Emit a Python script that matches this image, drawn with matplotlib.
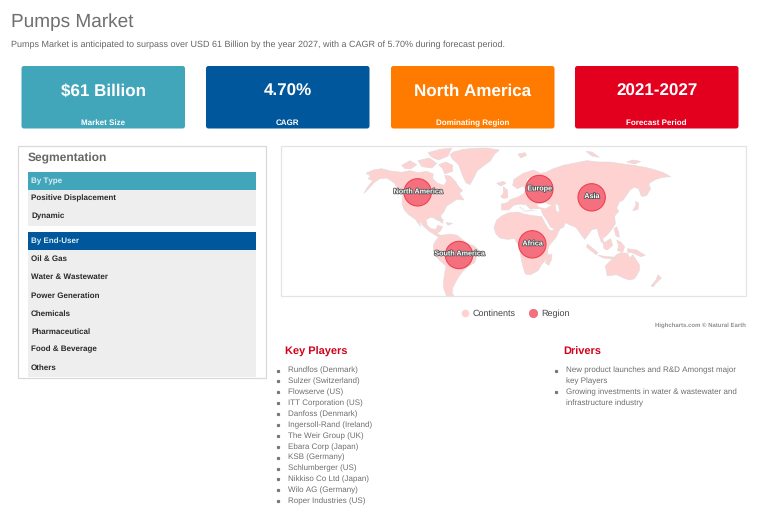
import matplotlib
matplotlib.use('Agg')
import matplotlib.pyplot as plt
import matplotlib.patheffects as pe
from matplotlib.patches import Circle, FancyBboxPatch, Polygon, Rectangle

plt.rcParams['font.family'] = ['Liberation Sans', 'DejaVu Sans']
plt.rcParams['text.hinting'] = 'none'
plt.rcParams['text.hinting_factor'] = 1

card_values = ['$61 Billion', '4.70%', 'North America', '2021-2027']
card_labels = ['Market Size', 'CAGR', 'Dominating Region', 'Forecast Period']
card_colors = ['#42a6bb', '#01579b', '#ff7b00', '#e3001f']

type_items = ['Positive Displacement', 'Dynamic']
end_user_items = ['Oil & Gas', 'Water & Wastewater', 'Power Generation', 'Chemicals',
                  'Pharmaceutical', 'Food & Beverage', 'Others']

key_players = ['Rundfos (Denmark)', 'Sulzer (Switzerland)', 'Flowserve (US)', 'ITT Corporation (US)',
               'Danfoss (Denmark)', 'Ingersoll-Rand (Ireland)', 'The Weir Group (UK)', 'Ebara Corp (Japan)',
               'KSB (Germany)', 'Schlumberger (US)', 'Nikkiso Co Ltd (Japan)', 'Wilo AG (Germany)',
               'Roper Industries (US)']
drivers = [['New product launches and R&D Amongst major', 'key Players'],
           ['Growing investments in water & wastewater and', 'infrastructure industry']]

# map outlines, traced in map units
continents = [
  # north america
  [(288, 100), (310, 90), (335, 86), (362, 93), (395, 97), (420, 92), (445, 98), (470, 94), (490, 102), (488, 116),
   (503, 130), (522, 136), (530, 124), (524, 106), (540, 108), (556, 124), (566, 140), (578, 152), (568, 160),
   (582, 180), (560, 178), (546, 188), (530, 198), (522, 214), (512, 228), (520, 250), (512, 246), (500, 232),
   (480, 232), (468, 240), (472, 256), (482, 266), (498, 268), (503, 256), (518, 260), (510, 274), (500, 280),
   (520, 290), (540, 298), (558, 308), (540, 308), (520, 300), (500, 288), (478, 274), (458, 256), (446, 240),
   (452, 260), (436, 238), (416, 224), (402, 208), (396, 190), (398, 168), (384, 146), (372, 128), (350, 114),
   (330, 116), (312, 128), (296, 146), (282, 160), (292, 142), (308, 122), (294, 116), (302, 108)],
  # greenland
  [(550, 36), (580, 28), (610, 25), (650, 24), (688, 30), (672, 44), (662, 62), (640, 78), (622, 92), (612, 112),
   (600, 134), (588, 128), (580, 112), (572, 92), (566, 74), (548, 58), (540, 44)],
  # south america
  [(490, 314), (500, 298), (515, 286), (540, 282), (562, 286), (576, 298), (592, 310), (612, 318), (628, 332),
   (620, 350), (614, 368), (596, 378), (578, 394), (566, 410), (556, 428), (548, 444), (546, 460), (552, 466),
   (530, 468), (522, 448), (520, 428), (524, 400), (528, 378), (510, 362), (496, 346), (490, 330)],
  # africa
  [(672, 262), (680, 240), (698, 226), (718, 218), (745, 216), (762, 222), (782, 226), (815, 230), (826, 252),
   (840, 272), (870, 266), (858, 292), (838, 316), (832, 332), (836, 350), (816, 372), (804, 392), (782, 404),
   (766, 402), (758, 376), (752, 348), (752, 324), (738, 304), (734, 296), (712, 298), (690, 294), (678, 282)],
  # eurasia
  [(694, 210), (694, 192), (712, 188), (722, 178), (742, 172), (762, 160), (768, 146), (760, 138), (742, 146),
   (728, 136), (732, 118), (760, 100), (790, 90), (812, 100), (830, 96), (850, 86), (880, 76), (920, 68),
   (950, 62), (985, 66), (1020, 66), (1060, 72), (1090, 76), (1125, 82), (1150, 88), (1180, 98), (1202, 110),
   (1178, 112), (1158, 118), (1140, 128), (1130, 146), (1114, 168), (1106, 146), (1092, 142), (1080, 150),
   (1068, 168), (1060, 180), (1048, 186), (1040, 204), (1046, 214), (1034, 228), (1036, 252), (1024, 270),
   (1010, 286), (998, 296), (1002, 312), (994, 306), (986, 284), (982, 266), (966, 268), (956, 282), (944, 298),
   (932, 282), (918, 262), (902, 256), (886, 248), (880, 262), (860, 270), (842, 262), (830, 240), (818, 222),
   (812, 206), (790, 206), (782, 208), (768, 194), (750, 192), (730, 196), (716, 210)],
  # australia
  [(1006, 378), (1022, 362), (1040, 344), (1054, 338), (1072, 340), (1080, 354), (1088, 344), (1108, 374),
   (1108, 392), (1094, 416), (1078, 420), (1060, 414), (1040, 404), (1012, 408)],
  # islands
  [(826, 368), (838, 344), (846, 342), (844, 360), (836, 376)],
  [(1143, 438), (1158, 420), (1164, 404), (1174, 414), (1158, 430), (1150, 440)],
  [(1088, 212), (1098, 196), (1096, 184), (1106, 190), (1104, 208)],
  [(1116, 170), (1128, 150), (1138, 136), (1142, 146), (1130, 166)],
  [(692, 170), (700, 160), (700, 140), (712, 150), (714, 172), (702, 176)],
  [(680, 130), (700, 124), (708, 130), (692, 138)],
  [(952, 312), (984, 338), (978, 344), (950, 322)],
  [(984, 346), (1012, 350), (1042, 352), (1040, 358), (1000, 354)],
  [(1000, 310), (1022, 296), (1028, 316), (1012, 330), (1002, 326)],
  [(1040, 300), (1052, 306), (1064, 320), (1058, 336), (1042, 332), (1046, 318)],
  [(1072, 326), (1100, 330), (1126, 346), (1112, 350), (1086, 338), (1074, 338)],
  [(1032, 266), (1040, 260), (1046, 276), (1048, 292), (1038, 288)],
  [(744, 42), (765, 38), (770, 46), (752, 54)],
  [(948, 34), (966, 36), (988, 52), (966, 48)],
  [(1070, 66), (1088, 60), (1112, 64), (1094, 72)],
  [(395, 76), (420, 62), (440, 74), (424, 86), (405, 86)],
  [(444, 62), (478, 54), (500, 70), (486, 84), (456, 80)],
  [(474, 38), (510, 28), (545, 24), (534, 48), (506, 60), (486, 52)],
  [(506, 74), (528, 66), (548, 76), (548, 94), (524, 102), (518, 86)],
  [(488, 232), (504, 234), (522, 240), (504, 242)],
  [(528, 248), (548, 250), (534, 256)],
]
inland_seas = [
  [(800, 192), (826, 188), (846, 196), (826, 206), (806, 202)],
  [(856, 190), (866, 196), (868, 218), (858, 212)],
  [(772, 112), (782, 118), (776, 140), (768, 136)],
  [(748, 200), (770, 212), (800, 212), (760, 214)],
]
region_names = ['North America', 'Europe', 'Asia', 'Africa', 'South America']
region_x = [443, 808, 965, 787, 567]
region_y = [157, 147, 172, 313, 345]
region_label_y = [155, 146, 169, 311, 341]

TEXT_GREY = '#6e6e6e'
RED = '#d0021b'


def px(size):
  return size * 0.72


def draw_cards(ax):
  lefts = [21.5, 206, 391, 575]
  for left, value, label, color in zip(lefts, card_values, card_labels, card_colors):
    ax.add_patch(FancyBboxPatch((left, 66), 163.5, 62.5, boxstyle='round,pad=0,rounding_size=2.5',
                                fc=color, ec='none'))
    ax.text(left + 81.7, 91, value, color='white', fontsize=px(16.6), fontweight='bold', ha='center', va='center')
    ax.text(left + 81.7, 123, label, color='white', fontsize=px(8.4), fontweight='bold', ha='center', va='center')


def draw_segment(ax, title, color, items, top, ys):
  ax.add_patch(Rectangle((28, top), 228, 18, fc=color, ec='none'))
  ax.add_patch(Rectangle((28, top + 18), 228, ys[-1] - top - 18 + 9.5, fc='#eeeeee', ec='none'))
  ax.text(31, top + 8.8, title, color='#dfeef5', fontsize=px(8.2), fontweight='bold', va='center')
  for item, y in zip(items, ys):
    ax.text(31, y + 0.5, item, color='#2a2a2a', fontsize=px(8.2), fontweight='bold', va='center')


def draw_segmentation(ax):
  ax.text(28, 158.5, 'Segmentation', color='#666666', fontsize=px(11.8), fontweight='bold', va='center')
  draw_segment(ax, 'By Type', card_colors[0], type_items, 172, [198, 216])
  draw_segment(ax, 'By End-User', card_colors[1], end_user_items, 232, [258, 276.5, 295, 313, 331, 349, 367])
  ax.add_patch(Rectangle((17.5, 146), 248.5, 231.5, fc='none', ec='#d9d9d9', lw=0.9))


def draw_lists(ax):
  ax.text(285, 352, 'Key Players', color=RED, fontsize=px(11.3), fontweight='bold', va='center')
  ax.text(563.5, 352, 'Drivers', color=RED, fontsize=px(11.3), fontweight='bold', va='center')
  y = 370.5
  for name in key_players:
    ax.plot([278], [y], 's', ms=1.3, color='#777777')
    ax.text(287.5, y, name, color=TEXT_GREY, fontsize=px(8.3), va='center')
    y += 10.9
  y = 370.5
  for lines in drivers:
    ax.plot([556], [y], 's', ms=1.3, color='#777777')
    for line in lines:
      ax.text(566, y, line, color=TEXT_GREY, fontsize=px(8.5), va='center')
      y += 10.9


def draw_map(fig):
  ax = fig.add_axes([270 / 768, 1 - 335 / 519, 490 / 768, 195 / 519])
  ax.set_xlim(0, 1470)
  ax.set_ylim(585, 0)
  ax.axis('off')
  ax.add_patch(Rectangle((34, 17), 1394, 452, fc='white', ec='#e4e4e4', lw=0.9))
  for shape in continents:
    ax.add_patch(Polygon(shape, closed=True, fc='#ffd2d2', ec='#dcdcdc', lw=0.4))
  for shape in inland_seas:
    ax.add_patch(Polygon(shape, closed=True, fc='white', ec='#dcdcdc', lw=0.3))
  for x, y in zip(region_x, region_y):
    ax.add_patch(Circle((x, y), 41, fc='#f4707f', ec='#f0404f', lw=0.8))
  halo = [pe.withStroke(linewidth=1.2, foreground='#555555')]
  for name, x, y in zip(region_names, region_x, region_label_y):
    ax.text(x, y, name, color='white', fontsize=px(7.2), fontweight='bold', ha='center', va='center',
            path_effects=halo)
  ax.plot([585], [518], 'o', ms=5.5, color='#ffd2d2', mew=0)
  ax.plot([788], [518], 'o', ms=6, color='#f4707f', mec='#f0606f', mew=0.5)
  ax.text(609, 520, 'Continents', color='#444444', fontsize=px(8.6), va='center')
  ax.text(813, 520, 'Region', color='#444444', fontsize=px(8.6), va='center')
  ax.text(1428, 555, 'Highcharts.com © Natural Earth', color='#909090', fontsize=px(5.7), fontweight='bold',
          ha='right', va='center')


fig = plt.figure(figsize=(7.68, 5.19), dpi=100)
page = fig.add_axes([0, 0, 1, 1])
page.set_xlim(0, 768)
page.set_ylim(519, 0)
page.axis('off')

page.text(11, 22.5, 'Pumps Market', color='#6f6f6f', fontsize=px(19), va='center')
page.text(11, 45, 'Pumps Market is anticipated to surpass over USD 61 Billion by the year 2027, with a CAGR of 5.70% during forecast period.',
          color='#666666', fontsize=px(8.75), va='center')

draw_cards(page)
draw_segmentation(page)
draw_lists(page)
draw_map(fig)

fig.savefig('out.png', dpi=100)
